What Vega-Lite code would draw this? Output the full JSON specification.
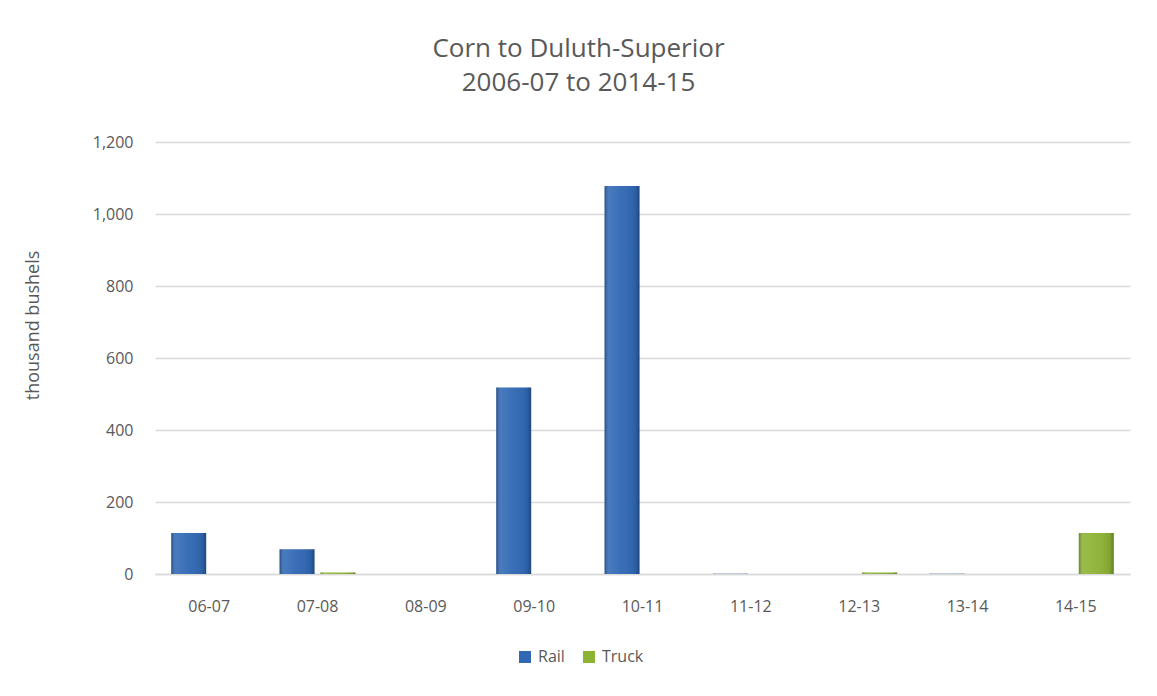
{
  "$schema": "https://vega.github.io/schema/vega-lite/v6.json",
  "width": 975,
  "height": 432,
  "autosize": {"type": "none"},
  "padding": {"left": 155, "top": 142, "right": 27, "bottom": 122},
  "background": "white",
  "title": {
    "text": ["Corn to Duluth-Superior", "2006-07 to 2014-15"],
    "font": "Open Sans",
    "fontSize": 26,
    "fontWeight": "normal",
    "color": "#595959",
    "anchor": "middle",
    "dx": -64,
    "offset": 38,
    "lineHeight": 34
  },
  "data": {
    "values": [
      {"year": "06-07", "mode": "Rail", "value": 114},
      {"year": "07-08", "mode": "Rail", "value": 69},
      {"year": "07-08", "mode": "Truck", "value": 4},
      {"year": "09-10", "mode": "Rail", "value": 518},
      {"year": "10-11", "mode": "Rail", "value": 1078},
      {"year": "11-12", "mode": "Rail", "value": 1},
      {"year": "12-13", "mode": "Truck", "value": 4},
      {"year": "13-14", "mode": "Rail", "value": 1},
      {"year": "14-15", "mode": "Truck", "value": 114}
    ]
  },
  "encoding": {
    "x": {
      "field": "year",
      "type": "nominal",
      "sort": ["06-07", "07-08", "08-09", "09-10", "10-11", "11-12", "12-13", "13-14", "14-15"],
      "scale": {
        "domain": ["06-07", "07-08", "08-09", "09-10", "10-11", "11-12", "12-13", "13-14", "14-15"],
        "paddingInner": 0.3,
        "paddingOuter": 0.15
      },
      "axis": {
        "title": null,
        "labelAngle": 0,
        "labelFont": "Open Sans",
        "labelFontSize": 16,
        "labelColor": "#595959",
        "labelPadding": 24,
        "ticks": false,
        "domainColor": "#D9D9D9",
        "domainWidth": 1.5
      }
    },
    "xOffset": {
      "field": "mode",
      "type": "nominal",
      "scale": {"domain": ["Rail", "Truck"], "paddingInner": 0.146, "paddingOuter": 0}
    },
    "y": {
      "field": "value",
      "type": "quantitative",
      "scale": {"domain": [0, 1200]},
      "axis": {
        "title": "thousand bushels",
        "titleFont": "Open Sans",
        "titleFontSize": 18,
        "titleFontWeight": "normal",
        "titleColor": "#595959",
        "titleX": -122,
        "titleY": 183,
        "titleAngle": -90,
        "titleAlign": "center",
        "titleBaseline": "middle",
        "values": [0, 200, 400, 600, 800, 1000, 1200],
        "format": ",d",
        "labelFont": "Open Sans",
        "labelFontSize": 16,
        "labelColor": "#595959",
        "labelPadding": 22,
        "ticks": false,
        "domain": false,
        "gridColor": "#D9D9D9",
        "gridWidth": 1.5
      }
    }
  },
  "layer": [
    {
      "mark": {"type": "bar"},
      "encoding": {
        "color": {
          "field": "mode",
          "type": "nominal",
          "scale": {"domain": ["Rail", "Truck"], "range": ["#3068B4", "#8DB335"]},
          "legend": {
            "title": null,
            "orient": "none",
            "direction": "horizontal",
            "legendX": 362,
            "legendY": 507,
            "symbolType": "square",
            "symbolSize": 144,
            "symbolStrokeWidth": 0,
            "labelFont": "Open Sans",
            "labelFontSize": 16,
            "labelColor": "#595959",
            "columnPadding": 16,
            "labelOffset": 5
          }
        }
      }
    },
    {
      "mark": {
        "type": "bar",
        "fill": {
          "x1": 0, "y1": 0, "x2": 1, "y2": 0,
          "gradient": "linear",
          "stops": [
            {"offset": 0, "color": "rgba(0,0,0,0.28)"},
            {"offset": 0.12, "color": "rgba(255,255,255,0.12)"},
            {"offset": 0.5, "color": "rgba(255,255,255,0.04)"},
            {"offset": 0.88, "color": "rgba(0,0,0,0.08)"},
            {"offset": 1, "color": "rgba(0,0,0,0.3)"}
          ]
        }
      }
    }
  ],
  "config": {"view": {"stroke": null}}
}
